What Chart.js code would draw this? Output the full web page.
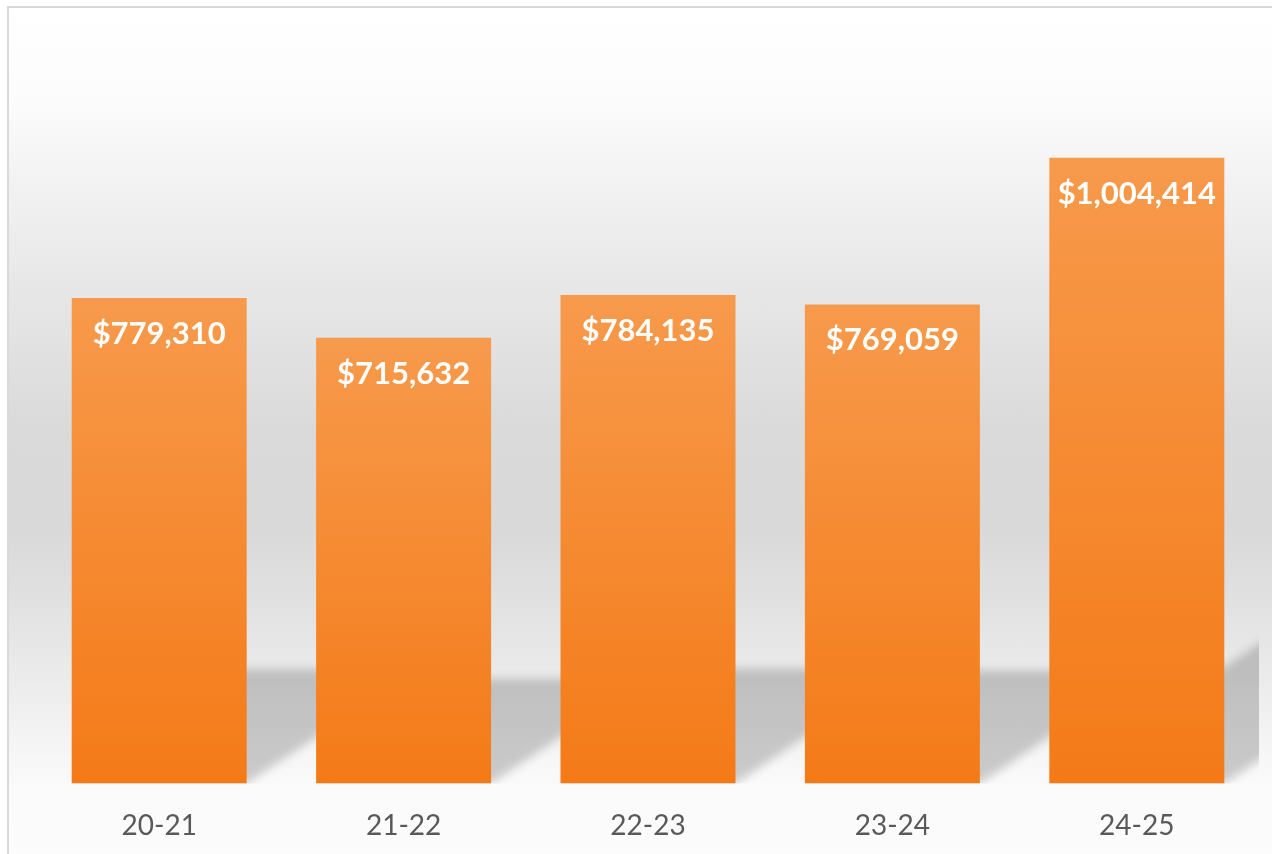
<!DOCTYPE html>
<html>
<head>
<meta charset="utf-8">
<script src="https://cdn.jsdelivr.net/npm/chart.js@4.4.1/dist/chart.umd.min.js"></script>
<style>
  html, body { margin: 0; padding: 0; background: #ffffff; overflow: hidden; }
  #frame {
    position: absolute; left: 7px; top: 6px; width: 1300px; height: 880px;
    border: 2px solid #d9d9d9;
    background: linear-gradient(to bottom,
      #ffffff 0px, #fcfcfc 90px, #f3f3f3 165px, #e6e6e6 290px,
      #dadada 420px, #d9d9d9 520px, #e0e0e0 585px, #eaeaea 660px,
      #fafafa 775px, #fcfcfc 846px);
  }
  #chart { position: absolute; left: 0; top: 0; }
</style>
</head>
<body>
<div id="frame"></div>
<canvas id="chart" width="1272" height="880"></canvas>
<script>
const years = ['20-21', '21-22', '22-23', '23-24', '24-25'];
const amounts = [779310, 715632, 784135, 769059, 1004414];
const yMin = 0;
const yMax = 1200000;

function money(v) {
  return '$' + v.toLocaleString('en-US');
}

// soft perspective shadow behind each bar
const barShadow = {
  id: 'barShadow',
  beforeDatasetsDraw(chart) {
    const ctx = chart.ctx;
    const area = chart.chartArea;
    const bars = chart.getDatasetMeta(0).data;
    ctx.save();
    ctx.beginPath();
    ctx.rect(area.left, area.top, area.right - area.left, area.bottom - area.top);
    ctx.clip();
    ctx.filter = 'blur(5px)';
    ctx.fillStyle = 'rgba(0,0,0,0.19)';
    bars.forEach(bar => {
      const half = bar.width / 2;
      const h = bar.base - bar.y;
      const sh = h * 0.235;
      const dx = sh * 1.5;
      ctx.beginPath();
      ctx.moveTo(bar.x - half, bar.base);
      ctx.lineTo(bar.x + half, bar.base);
      ctx.lineTo(bar.x + half + dx, bar.base - sh);
      ctx.lineTo(bar.x - half + dx, bar.base - sh);
      ctx.closePath();
      ctx.fill();
    });
    ctx.restore();
  }
};

// value labels inside the top of each bar
const valueLabels = {
  id: 'valueLabels',
  afterDatasetsDraw(chart) {
    const ctx = chart.ctx;
    const bars = chart.getDatasetMeta(0).data;
    ctx.save();
    ctx.fillStyle = '#ffffff';
    ctx.font = 'bold 31px Lato';
    ctx.textAlign = 'center';
    ctx.textBaseline = 'middle';
    bars.forEach((bar, i) => {
      ctx.fillText(money(amounts[i]), bar.x, bar.y + 36);
    });
    ctx.restore();
  }
};

function barFill(context) {
  const chart = context.chart;
  const y = chart.scales.y;
  if (!y) return '#f58a30';
  const top = y.getPixelForValue(amounts[context.dataIndex]);
  const bottom = y.getPixelForValue(0);
  if (!isFinite(top) || !isFinite(bottom)) return '#f58a30';
  const g = chart.ctx.createLinearGradient(0, top, 0, bottom);
  g.addColorStop(0, '#f79a4c');
  g.addColorStop(1, '#f47a17');
  return g;
}

new Chart(document.getElementById('chart'), {
  type: 'bar',
  data: {
    labels: years,
    datasets: [{
      data: amounts,
      backgroundColor: barFill,
      borderWidth: 0,
      categoryPercentage: 1,
      barPercentage: 0.716
    }]
  },
  options: {
    responsive: false,
    animation: false,
    layout: { padding: { left: 37, right: 13, top: 36, bottom: 11 } },
    plugins: {
      legend: { display: false },
      tooltip: { enabled: false }
    },
    scales: {
      x: {
        grid: { display: false, drawTicks: false },
        border: { display: false },
        ticks: {
          color: '#595959',
          padding: 26,
          font: { family: 'Lato', size: 28 }
        }
      },
      y: {
        display: false,
        min: yMin,
        max: yMax
      }
    }
  },
  plugins: [barShadow, valueLabels]
});
</script>
</body>
</html>
